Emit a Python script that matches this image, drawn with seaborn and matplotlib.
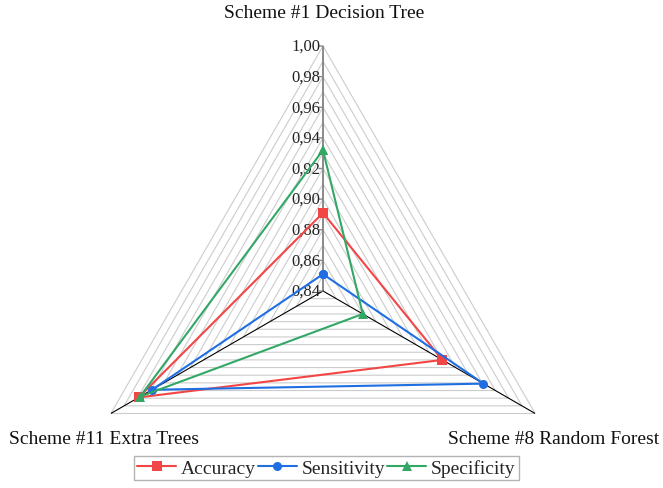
import numpy as np
import pandas as pd
import matplotlib
matplotlib.use("Agg")
import matplotlib.pyplot as plt
from matplotlib.lines import Line2D
import seaborn as sns

# Models (radar axes, clockwise from the top)
categories = ["Scheme #1 Decision Tree", "Scheme #8 Random Forest", "Scheme #11 Extra Trees"]
metrics = ["Accuracy", "Sensitivity", "Specificity"]
accuracy = [0.891, 0.930, 0.979]
sensitivity = [0.851, 0.961, 0.969]
specificity = [0.932, 0.870, 0.978]
tick_values = [0.84, 0.86, 0.88, 0.90, 0.92, 0.94, 0.96, 0.98, 1.00]

sns.set_theme(style="white")
plt.rcParams["font.family"] = ["Liberation Serif", "DejaVu Serif"]

colors = {"Accuracy": "#f24646", "Sensitivity": "#1f6fe3", "Specificity": "#33a866"}
markers = {"Accuracy": "s", "Sensitivity": "o", "Specificity": "^"}

n = len(categories)
angles = [2 * np.pi * i / n for i in range(n)]
closed_angles = angles + [2 * np.pi]

rows = []
for name, vals in zip(metrics, [accuracy, sensitivity, specificity]):
    for th, v in zip(closed_angles, vals + vals[:1]):
        rows.append({"theta": th, "value": v, "metric": name})
df = pd.DataFrame(rows)

fig = plt.figure(figsize=(6.63, 4.89), dpi=100)
ax = fig.add_axes([78 / 663, (489 - 537) / 489, 490 / 663, 490 / 489], projection="polar")
ax.set_theta_offset(np.pi / 2)
ax.set_theta_direction(-1)
rmin, rmax = 0.84, 1.00
ax.set_ylim(rmin, rmax)
ax.grid(False)
ax.spines["polar"].set_visible(False)
ax.set_xticks([])
ax.set_yticks([])
ax.patch.set_alpha(0)

# triangular gridlines every 0.01
for r in np.arange(0.85, 1.0001, 0.01):
    ax.plot(closed_angles, [r] * (n + 1), color="#cccccc", lw=0.8, zorder=1)

# spokes
ax.plot([0, 0], [rmin, rmax], color="#8a8a8a", lw=1.4, zorder=2)
for th in angles[1:]:
    ax.plot([th, th], [rmin, rmax], color="black", lw=0.8, zorder=2)

# radial tick marks and labels on the top spoke
for v in tick_values:
    ax.annotate("", xy=(0, v), xytext=(-4, 0), textcoords="offset pixels",
                arrowprops=dict(arrowstyle="-", color="#8a8a8a", lw=1.0,
                                shrinkA=0, shrinkB=0))
    ax.annotate(f"{v:.2f}".replace(".", ","), xy=(0, v), xytext=(-3, 0),
                textcoords="offset pixels", ha="right", va="center",
                fontsize=12, color="#222222", zorder=3)

sns.lineplot(data=df, x="theta", y="value", hue="metric", style="metric",
             markers=markers, dashes=False, sort=False, estimator=None,
             palette=colors, ax=ax, legend=False, linewidth=1.5,
             markersize=6.5, markeredgewidth=0, zorder=4)
ax.set_xlabel("")
ax.set_ylabel("")
ax.set_ylim(rmin, rmax)

# category labels
offsets = [(1, 33), (18, -25), (-7, -25)]
for th, lab, off in zip(angles, categories, offsets):
    ax.annotate(lab, xy=(th, rmax), xytext=off, textcoords="offset pixels",
                ha="center", va="center", fontsize=14, color="#111111",
                annotation_clip=False)

handles = [Line2D([0], [0], color=colors[m], marker=markers[m], lw=1.5,
                  markersize=6.5, markeredgewidth=0) for m in metrics]
leg = fig.legend(handles, metrics, loc="center", bbox_to_anchor=(0.4925, 0.041),
                 ncol=3, frameon=True, fancybox=False, fontsize=14,
                 handlelength=2.0, handletextpad=0.25, columnspacing=0.1,
                 borderpad=0.15, borderaxespad=0)
leg.get_frame().set_edgecolor("#a0a0a0")
leg.get_frame().set_linewidth(1.0)

fig.savefig("out.png", dpi=100)
